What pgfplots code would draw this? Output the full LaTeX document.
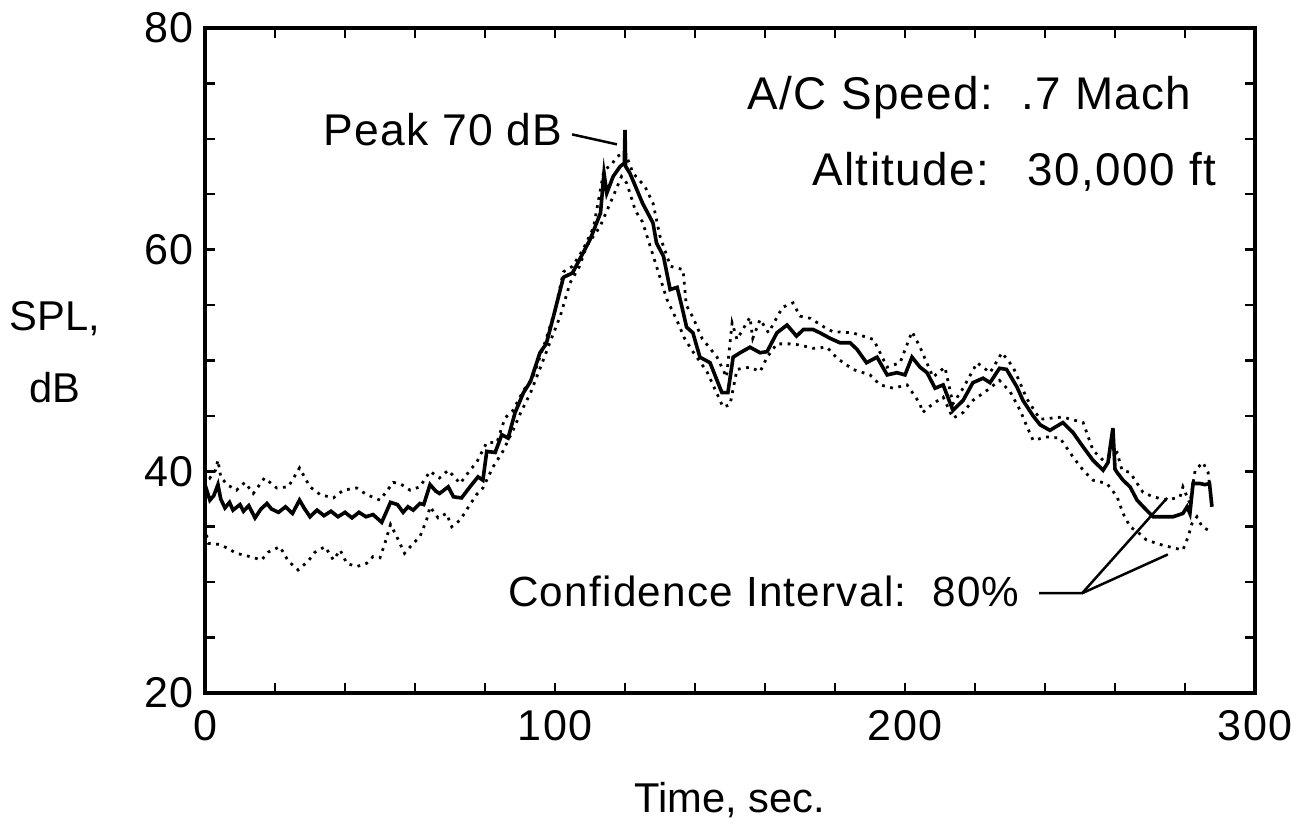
\documentclass[border=0pt]{standalone}
\usepackage{pgfplots}
\pgfplotsset{compat=1.18}
\usepackage{fontspec}
\setmainfont{Liberation Sans}
\newfontfamily\annfont{Liberation Sans}[LetterSpace=3]

% mean level
\pgfplotstableread{
t spl
0 38.8
0.8 38.0
1.4 37.4
2.5 37.8
3.7 38.8
4.5 37.5
5.7 36.7
7 37.2
8 36.5
10 37.0
11 36.4
12.5 36.9
14.3 35.8
16 36.6
17.7 37.1
19 36.6
21 36.3
23 36.8
25 36.2
27 37.4
28.5 36.6
30 35.9
32 36.5
34 36.0
36 36.4
38 35.9
40 36.3
42 35.8
44 36.3
46 35.9
48 36.1
50.5 35.4
53 37.2
55 37.0
56.6 36.3
58 36.8
59.5 36.5
61.4 37.1
62.5 37.0
64.3 38.8
66 38.2
67 38.0
69.5 38.6
71 37.7
73.3 37.6
75.7 38.6
78 39.5
79.4 39.2
80.5 41.8
82.9 41.7
84.8 43.3
86.6 43.0
88.6 45.3
91 47.1
93 48.1
95.7 50.7
97.5 51.5
99.5 53.9
102.4 57.5
105 57.9
107 59.1
110 60.9
113 63.3
114 66.9
114.8 65.1
116.6 66.6
118.6 67.5
119.8 67.8
120 70.8
120.2 67.5
121.4 66.9
123.4 65.4
125 64.2
128 62.4
129 60.6
131 59.4
132.9 56.4
134.9 56.6
136.3 54.8
137.6 53.0
139.4 52.5
141.4 50.3
144.3 49.8
146.3 48.2
147.7 47.1
149.4 47.1
150.9 50.3
152.9 50.7
155.7 51.2
158.6 50.7
160.6 50.8
163.4 52.5
166.3 53.2
169 52.2
171 52.8
173.7 52.8
175.7 52.5
178.6 52.0
181.4 51.6
184.3 51.6
186.3 51.0
189 49.8
192 50.3
194.9 48.7
197.7 48.9
200 48.7
202 50.3
204.3 49.4
206.3 48.9
208.6 47.5
210.9 47.8
213.7 45.5
216.6 46.4
219.4 48.0
222.3 48.4
224.3 48.0
227 49.3
229 49.2
232 47.6
233.7 46.4
236.6 45.0
238.6 44.2
241.4 43.7
245.1 44.4
248 43.5
250.9 42.2
253.7 41.0
256.6 40.1
258 40.8
259.4 43.9
260 40.2
260.6 39.9
262.3 39.2
264.3 38.6
266.3 37.4
269 36.5
270.9 35.9
273.7 35.9
276.6 35.9
279.4 36.2
280.6 36.8
281.4 36.2
282.3 38.9
284.3 38.9
285.7 38.8
287 38.9
287.7 36.8
}\meanspl

% upper bound of the 80% interval
\pgfplotstableread{
t spl
0 40.1
1.4 39.4
3.0 40.1
3.7 41.0
4.5 39.5
6.3 38.8
9 38.3
11.4 39.0
13.8 38.0
17 39.4
20.5 38.5
23.8 38.6
27 40.3
30 38.6
32.9 37.9
36.7 37.6
39.5 38.3
43.3 38.5
46.2 37.9
50 37.4
53.8 39.0
55.7 38.9
58.6 38.3
61.4 38.6
64.3 40.0
67 39.4
69.5 40.1
72.9 38.9
75.7 40.1
77.6 40.8
80.5 42.6
83.4 42.6
85.7 44.8
88 45.5
91 47.3
93.7 48.5
97 51.5
100 54.5
102.4 58.0
105 58.5
108 60.0
111 62.0
114 67.2
116 67.6
117.7 68.4
120 68.8
122.3 66.9
125.7 65.7
128 64.2
130 61.2
133 58.5
136.6 58.2
137.5 55.0
139.4 53.9
142 52.0
146.3 50.3
149 48.5
150.6 53.4
152 51.9
155.7 53.9
156.5 52.0
158.6 53.7
161 52.5
165 54.8
168 55.2
170 54.0
173 53.8
177 53.0
179.4 52.6
185 52.5
191 51.9
194.9 49.4
198.6 49.8
202 52.6
204.3 51.2
208 48.5
211.4 49.4
213.7 46.1
216.6 47.5
220.6 49.8
224.3 48.9
227.7 50.7
230.9 49.4
234.9 46.5
238.6 44.7
245 44.9
250.9 44.4
253.7 41.9
256.6 41.0
260.6 41.7
262 40.1
264.3 39.9
268 38.1
270.9 37.7
274.9 37.4
278.6 37.7
279.4 38.6
281.4 37.1
282.9 40.1
285.1 40.8
286.6 39.9
287.1 38.6
}\upperspl

% lower bound of the 80% interval
\pgfplotstableread{
t spl
0 35.0
0.9 33.5
4.3 33.4
6.2 33.1
9 32.6
12.9 32.3
16.2 32.0
18 32.7
21.4 33.2
23.8 31.9
26.6 31.1
29.5 31.9
31.4 32.7
34.3 33.2
36.7 32.0
38.6 32.9
40.5 31.7
43.3 31.4
46.2 31.7
48 32.3
50 32.2
51.4 33.5
53 35.2
54.8 34.1
57 32.6
59.5 33.5
61.4 34.1
63.3 35.6
64.3 36.8
66.6 35.8
69 36.2
70.5 35.0
72.9 35.6
75.1 36.7
77.6 37.9
79.4 38.5
82.3 40.4
85.1 41.8
88 43.7
90.5 45.5
92.9 47.0
96 49.5
99 52.0
101.5 54.0
104.3 57.0
107 58.5
109 60.3
112.9 62.1
116.6 64.8
119 66.6
120.5 66.0
123 63.5
125 62.5
127 60.5
130 57.5
132 55.5
135 53.5
137 52.0
139.4 50.8
143.4 49.0
146.3 47.0
148 45.8
150 46.0
152 49.2
155.7 49.4
158.6 49.0
160.6 50.3
163.4 51.5
167 51.5
170 51.4
173.7 51.1
177.7 51.2
180.6 50.2
185.1 49.2
190 48.7
192.9 47.8
196.6 47.5
200.6 47.8
204.3 46.1
205 45.3
208 46.1
210.9 46.7
213.7 44.8
216.6 45.3
219.4 46.4
223.4 47.3
227 48.2
230 47.2
232.9 45.5
234.9 44.0
236.6 42.8
240.6 43.1
244.3 43.0
248 41.3
250.9 40.1
253.7 39.2
257.7 38.9
260.6 37.7
262.3 36.2
264.3 35.0
266.6 34.5
269 33.8
272.9 33.4
276.6 33.1
279.4 32.9
280.9 34.1
282 35.3
283.4 35.9
284.9 35.0
286.6 34.7
}\lowerspl

\begin{document}
\begin{tikzpicture}
\begin{axis}[
    name=main,
    scale only axis,
    width=378pt, height=239.4pt,
    xmin=0, xmax=300, ymin=20, ymax=80,
    xtick={0,100,200,300}, ytick={20,40,60,80},
    minor x tick num=4, minor y tick num=3,
    tick align=inside,
    major tick length=3.6pt, minor tick length=3.6pt,
    tick style={line width=0.9pt, black},
    axis line style={line width=1.1pt},
    /pgf/number format/assume math mode=true,
    /pgf/number format/1000 sep={},
    tick label style={font=\annfont\fontsize{15.5}{18}\selectfont, inner sep=0pt},
    xticklabel style={yshift=-6pt},
    yticklabel style={xshift=-4pt},
    xlabel={Time, sec.},
    xlabel style={font=\fontsize{15}{18}\selectfont, at={(axis description cs:0.5,0)}, anchor=center, yshift=-38.5pt},
    ylabel={SPL,\\dB},
    ylabel style={rotate=-90, font=\fontsize{15}{26}\selectfont, align=center, at={(axis description cs:0,0.513)}, anchor=center, xshift=-54pt},
    clip=false,
]
\addplot[black, line width=1.3pt] table[x=t, y=spl] {\meanspl};
\addplot[black, line width=1pt, dash pattern=on 1pt off 2pt] table[x=t, y=spl] {\upperspl};
\addplot[black, line width=1pt, dash pattern=on 1pt off 2pt] table[x=t, y=spl] {\lowerspl};

\node[anchor=east, inner sep=0pt, font=\annfont\fontsize{16}{18}\selectfont] at (axis cs:102.3,70.8) {Peak 70 dB};
\draw[line width=0.9pt] (axis cs:104.9,70.4) -- (axis cs:117.7,69.5);
\node[anchor=east, inner sep=0pt, font=\annfont\fontsize{16.5}{18}\selectfont] at (axis cs:282,73.7) {A/C Speed:\ \ .7 Mach};
\node[anchor=east, inner sep=0pt, font=\annfont\fontsize{16.5}{18}\selectfont] at (axis cs:289,67.0) {Altitude:\hspace{14pt}30,000 ft};
\node[anchor=east, inner sep=0pt, font=\annfont\fontsize{15.2}{18}\selectfont] at (axis cs:232.9,29.2) {Confidence Interval:\ \ 80\%};
\draw[line width=0.9pt] (axis cs:238.3,29.0) -- (axis cs:250.6,29.0) -- (axis cs:274.9,37.6);
\draw[line width=0.9pt] (axis cs:250.6,29.0) -- (axis cs:275.1,32.5);
\end{axis}
\pgfresetboundingbox
\path[use as bounding box] ([xshift=-73.8pt, yshift=-51.84pt]main.south west) rectangle ([xshift=14.04pt, yshift=10.08pt]main.north east);
\end{tikzpicture}
\end{document}
